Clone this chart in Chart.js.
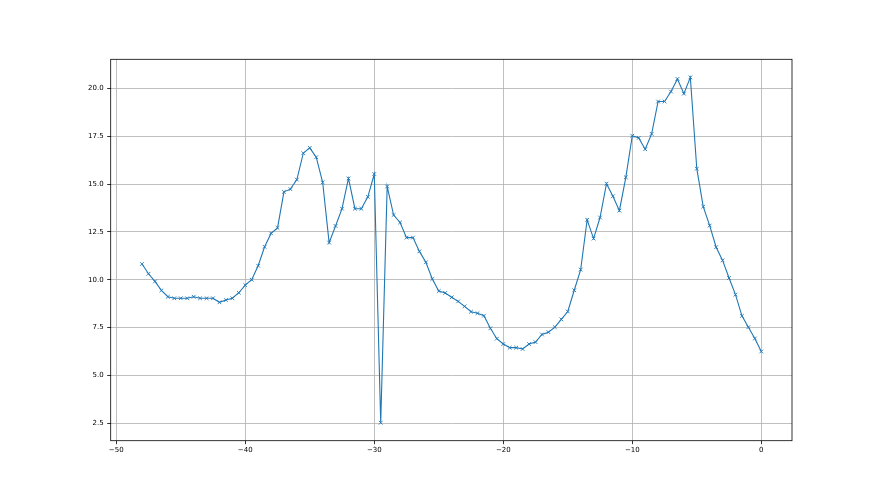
<!DOCTYPE html>
<html>
<head>
<meta charset="utf-8">
<script src="https://cdn.jsdelivr.net/npm/chart.js@4/dist/chart.umd.min.js"></script>
<style>
html,body{margin:0;padding:0;background:#fff;}
#wrap{width:880px;height:495px;position:relative;}
</style>
</head>
<body>
<div id="wrap"><canvas id="c" width="880" height="495"></canvas></div>
<script>
const xValues = [-48,-47.5,-47,-46.5,-46,-45.5,-45,-44.5,-44,-43.5,-43,-42.5,-42,-41.5,-41,-40.5,-40,-39.5,-39,-38.5,-38,-37.5,-37,-36.5,-36,-35.5,-35,-34.5,-34,-33.5,-33,-32.5,-32,-31.5,-31,-30.5,-30,-29.5,-29,-28.5,-28,-27.5,-27,-26.5,-26,-25.5,-25,-24.5,-24,-23.5,-23,-22.5,-22,-21.5,-21,-20.5,-20,-19.5,-19,-18.5,-18,-17.5,-17,-16.5,-16,-15.5,-15,-14.5,-14,-13.5,-13,-12.5,-12,-11.5,-11,-10.5,-10,-9.5,-9,-8.5,-8,-7.5,-7,-6.5,-6,-5.5,-5,-4.5,-4,-3.5,-3,-2.5,-2,-1.5,-1,-0.5,0];
const yValues = [10.82,10.31,9.91,9.44,9.11,9.03,9.03,9.03,9.11,9.03,9.03,9.03,8.82,8.94,9.03,9.32,9.72,10.0,10.73,11.72,12.42,12.71,14.59,14.73,15.23,16.61,16.89,16.40,15.09,11.94,12.81,13.71,15.29,13.71,13.71,14.33,15.52,2.53,14.87,13.38,12.99,12.20,12.20,11.48,10.91,10.04,9.41,9.31,9.08,8.87,8.61,8.33,8.25,8.12,7.46,6.92,6.64,6.45,6.45,6.38,6.64,6.74,7.14,7.26,7.52,7.93,8.34,9.45,10.53,13.13,12.15,13.25,15.02,14.36,13.61,15.35,17.52,17.41,16.82,17.62,19.31,19.31,19.83,20.49,19.72,20.57,15.80,13.82,12.83,11.70,11.01,10.09,9.22,8.11,7.52,6.93,6.25];
const xTicks = [-50,-40,-30,-20,-10,0];
const yTicks = [2.5,5.0,7.5,10.0,12.5,15.0,17.5,20.0];

const points = xValues.map((x,i)=>({x:x,y:yValues[i]}));

const frame = {
  id:'frame',
  afterDraw(chart){
    const a = chart.chartArea, ctx = chart.ctx;
    ctx.save();
    ctx.strokeStyle='#000';
    ctx.lineWidth=0.8;
    ctx.strokeRect(a.left, a.top, a.right-a.left, a.bottom-a.top);
    ctx.restore();
  }
};

const font = {family:'DejaVu Sans', size:7};

new Chart(document.getElementById('c'), {
  type:'line',
  data:{datasets:[{
    data:points,
    borderColor:'#1f77b4',
    borderWidth:1.1,
    pointStyle:'crossRot',
    pointRadius:2.6,
    pointBorderWidth:0.9,
    pointBorderColor:'#1f77b4',
    pointBackgroundColor:'#1f77b4',
    tension:0,
    fill:false
  }]},
  options:{
    responsive:false,
    animation:false,
    devicePixelRatio:1,
    layout:{padding:{top:59.3,right:88,left:0,bottom:0}},
    plugins:{legend:{display:false},tooltip:{enabled:false},title:{display:false}},
    scales:{
      x:{
        type:'linear',
        min:-50.43,max:2.38,
        afterBuildTicks(s){ s.ticks = xTicks.map(v=>({value:v})); },
        afterFit(s){ s.height = 495-440.7; },
        ticks:{font:font,color:'#000',padding:1.5,maxRotation:0,autoSkip:false,
          callback:(v)=>String(v).replace('-','\u2212')},
        grid:{color:'#b0b0b0',lineWidth:0.8,drawTicks:true,tickLength:3.5,tickColor:'#000',tickWidth:0.8},
        border:{display:false}
      },
      y:{
        type:'linear',
        min:1.59,max:21.515,
        afterBuildTicks(s){ s.ticks = yTicks.map(v=>({value:v})); },
        afterFit(s){ s.width = 110.7; },
        ticks:{font:font,color:'#000',padding:3.5,autoSkip:false,
          callback:(v)=>Number(v).toFixed(1)},
        grid:{color:'#b0b0b0',lineWidth:0.8,drawTicks:true,tickLength:3.5,tickColor:'#000',tickWidth:0.8},
        border:{display:false}
      }
    }
  },
  plugins:[frame]
});
</script>
</body>
</html>
